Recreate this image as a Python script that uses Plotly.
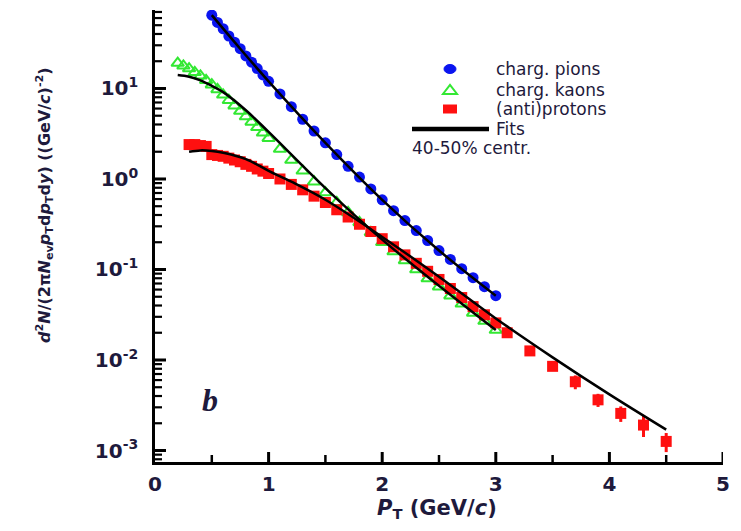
import math
import plotly.graph_objects as go

# ---------------- data ----------------
pion_pt = [0.5, 0.55, 0.6, 0.65, 0.7, 0.75, 0.8, 0.85, 0.9, 0.95, 1.0,
           1.1, 1.2, 1.3, 1.4, 1.5, 1.6, 1.7, 1.8, 1.9, 2.0,
           2.1, 2.2, 2.3, 2.4, 2.5, 2.6, 2.7, 2.8, 2.9, 3.0]
pion_y = [64.6, 53.7, 45.7, 38.0, 32.4, 27.5, 22.9, 19.5, 16.6, 14.1, 12.0,
          8.7, 6.3, 4.57, 3.39, 2.51, 1.86, 1.38, 1.05, 0.776, 0.589,
          0.447, 0.347, 0.269, 0.209, 0.162, 0.129, 0.102, 0.0813, 0.0646, 0.0513]

kaon_pt = [0.2, 0.25, 0.3, 0.35, 0.4, 0.45, 0.5, 0.55, 0.6, 0.65, 0.7, 0.75,
           0.8, 0.85, 0.9, 0.95, 1.0, 1.1, 1.2, 1.3, 1.4, 1.5, 1.6, 1.7, 1.8,
           1.9, 2.0, 2.1, 2.2, 2.3, 2.4, 2.5, 2.6, 2.7, 2.8, 2.9, 3.0]
kaon_y = [19.1, 17.8, 16.6, 15.1, 13.8, 12.3, 11.0, 9.77, 8.51, 7.41, 6.46, 5.62,
          4.90, 4.27, 3.72, 3.24, 2.82, 2.14, 1.62, 1.23, 0.933, 0.708, 0.550, 0.427, 0.331,
          0.257, 0.200, 0.158, 0.126, 0.100, 0.0794, 0.0646, 0.0513, 0.0417, 0.0331, 0.0269, 0.0214]

proton_pt = [0.3, 0.35, 0.4, 0.45, 0.5, 0.55, 0.6, 0.65, 0.7, 0.75, 0.8, 0.85,
             0.9, 0.95, 1.0, 1.1, 1.2, 1.3, 1.4, 1.5, 1.6, 1.7, 1.8, 1.9, 2.0,
             2.1, 2.2, 2.3, 2.4, 2.5, 2.6, 2.7, 2.8, 2.9, 3.0,
             3.1, 3.3, 3.5, 3.7, 3.9, 4.1, 4.3, 4.5]
proton_y = [2.40, 2.40, 2.34, 2.29, 1.86, 1.82, 1.78, 1.70, 1.62, 1.55, 1.45, 1.38,
            1.29, 1.22, 1.15, 1.0, 0.871, 0.759, 0.646, 0.550, 0.457, 0.380, 0.316, 0.263, 0.219,
            0.178, 0.145, 0.117, 0.0955, 0.0776, 0.0617, 0.0490, 0.0389, 0.0316, 0.0257,
            0.0200, 0.0126, 0.00851, 0.00575, 0.00363, 0.00257, 0.00191, 0.00126]
proton_err = [0] * 35 + [0.0012, 0.0009, 0.0008, 0.0010, 0.0006, 0.0005, 0.0005, 0.0003]

pion_fit_pt = [0.5, 0.75, 1.0, 1.5, 2.0, 2.5, 3.0]
pion_fit_y = [64.6, 27.5, 12.0, 2.51, 0.589, 0.162, 0.0513]

kaon_fit_pt = [0.2, 0.3, 0.4, 0.5, 0.6, 0.8, 1.0, 1.5, 2.0, 2.5, 3.0]
kaon_fit_y = [14.1, 13.5, 12.3, 10.7, 9.12, 5.75, 3.31, 0.794, 0.214, 0.0661, 0.0214]

proton_fit_pt = [0.3, 0.4, 0.5, 0.6, 0.8, 1.0, 1.2, 1.5, 2.0, 2.5, 3.0, 3.5, 4.0, 4.5]
proton_fit_y = [2.0, 2.07, 2.04, 1.95, 1.66, 1.23, 0.933, 0.589, 0.229, 0.0832, 0.0288,
                0.0107, 0.00417, 0.0017]

y_tickvals = [1e-3, 1e-2, 1e-1, 1e0, 1e1]
y_ticktext = ["10<sup>-3</sup>", "10<sup>-2</sup>", "10<sup>-1</sup>", "10<sup>0</sup>", "10<sup>1</sup>"]
y_minor = [m * 10.0 ** e for e in range(-4, 2) for m in range(2, 10)]
x_tickvals = [0, 1, 2, 3, 4, 5]
x_minor = [0.5, 1.5, 2.5, 3.5, 4.5]

legend_names = ["charg. pions", "charg. kaons", "(anti)protons", "Fits", "40-50% centr."]

# ---------------- styling ----------------
BLUE = "#0a14f0"
GREEN = "#33e833"
RED = "#ff1010"
TXT = "#1e1a3c"
XR = [0, 5]
YR = [-3.127, 1.867]

# the page body adds an 8px offset, so the figure is sized to fit inside it
OFF = 8
W, H = 741 - OFF, 531 - OFF
L, R, T, B = 147, 18, 2, 69
pw, ph = W - L - R, H - T - B


def px(X):
    return (X - OFF - L) / pw


def py(Y):
    return (H + OFF - B - Y) / ph


def ylog_paper(v):
    return (math.log10(v) - YR[0]) / (YR[1] - YR[0])


fig = go.Figure()

fig.add_trace(go.Scatter(x=pion_pt, y=pion_y, mode="markers",
                         marker=dict(symbol="circle", size=11, color=BLUE)))
fig.add_trace(go.Scatter(x=kaon_pt, y=kaon_y, mode="markers",
                         marker=dict(symbol="triangle-up-open", size=11, color=GREEN,
                                     line=dict(width=2, color=GREEN))))
fig.add_trace(go.Scatter(x=proton_pt, y=proton_y, mode="markers",
                         marker=dict(symbol="square", size=11, color=RED),
                         error_y=dict(type="data", array=proton_err, color=RED,
                                      thickness=3, width=0)))

for xs, ys in [(pion_fit_pt, pion_fit_y), (kaon_fit_pt, kaon_fit_y), (proton_fit_pt, proton_fit_y)]:
    fig.add_trace(go.Scatter(x=xs, y=ys, mode="lines",
                             line=dict(color="black", width=2.5, shape="spline", smoothing=1.0)))

shapes = []
# axis tick marks (pointing inward)
for v in y_tickvals:
    shapes.append(dict(type="line", xref="paper", yref="paper", x0=0, x1=11 / pw,
                       y0=ylog_paper(v), y1=ylog_paper(v), line=dict(color="black", width=3)))
for v in y_minor:
    yp = ylog_paper(v)
    if 0 <= yp <= 1:
        shapes.append(dict(type="line", xref="paper", yref="paper", x0=0, x1=7 / pw,
                           y0=yp, y1=yp, line=dict(color="black", width=2.2)))
for v in x_tickvals[1:]:
    shapes.append(dict(type="line", xref="x", yref="paper", x0=v, x1=v,
                       y0=0, y1=10 / ph, line=dict(color="black", width=3)))
for v in x_minor:
    shapes.append(dict(type="line", xref="x", yref="paper", x0=v, x1=v,
                       y0=0, y1=7 / ph, line=dict(color="black", width=2.5)))

# legend symbols
cx = px(450)
shapes.append(dict(type="circle", xref="paper", yref="paper",
                   x0=cx - 6 / pw, x1=cx + 6 / pw, y0=py(69) - 4.5 / ph, y1=py(69) + 4.5 / ph,
                   fillcolor=BLUE, line=dict(color=BLUE, width=1)))
ty = py(90)
shapes.append(dict(type="path", xref="paper", yref="paper",
                   path=f"M {cx - 7 / pw} {ty - 4 / ph} L {cx + 7 / pw} {ty - 4 / ph} L {cx} {ty + 5 / ph} Z",
                   line=dict(color=GREEN, width=2)))
shapes.append(dict(type="rect", xref="paper", yref="paper",
                   x0=cx - 7 / pw, x1=cx + 7 / pw, y0=py(109) - 4.5 / ph, y1=py(109) + 4.5 / ph,
                   fillcolor=RED, line=dict(color=RED, width=0)))
shapes.append(dict(type="line", xref="paper", yref="paper",
                   x0=px(412), x1=px(489), y0=py(129), y1=py(129),
                   line=dict(color="black", width=4.5)))
fig.update_layout(shapes=shapes)

ann_font = dict(family="DejaVu Sans, Arial", size=17, color=TXT)
annotations = []
for name, yy in zip(legend_names[:4], [69, 90, 109, 129]):
    annotations.append(dict(xref="paper", yref="paper", x=px(494), y=py(yy), text=name,
                            showarrow=False, xanchor="left", yanchor="middle", font=ann_font))
annotations.append(dict(xref="paper", yref="paper", x=px(410), y=py(148), text=legend_names[4],
                        showarrow=False, xanchor="left", yanchor="middle", font=ann_font))
annotations.append(dict(xref="paper", yref="paper", x=px(210), y=py(400), text="<b><i>b</i></b>",
                        showarrow=False, xanchor="center", yanchor="middle",
                        font=dict(family="Liberation Serif, Times New Roman", size=32, color=TXT)))
annotations.append(dict(xref="paper", yref="paper", x=px(45), y=py(205), textangle=-90,
                        text="<b><i>d</i><sup>2</sup><i>N</i>/(2π<i>N</i><sub>ev</sub><i>p</i><sub>T</sub>d<i>p</i><sub>T</sub>d<i>y</i>) ((GeV/<i>c</i>)<sup>-2</sup>)</b>",
                        showarrow=False, xanchor="center", yanchor="middle",
                        font=dict(family="DejaVu Sans, Arial", size=16, color=TXT)))
annotations.append(dict(xref="paper", yref="paper", x=px(437), y=py(509),
                        text="<b><i>P</i><sub>T</sub> (GeV/<i>c</i>)</b>",
                        showarrow=False, xanchor="center", yanchor="middle",
                        font=dict(family="DejaVu Sans, Arial", size=21, color=TXT)))
fig.update_layout(annotations=annotations)

fig.update_layout(
    width=W, height=H, margin=dict(l=L, r=R, t=T, b=B),
    paper_bgcolor="white", plot_bgcolor="white", showlegend=False,
    xaxis=dict(range=XR, showline=True, linecolor="black", linewidth=2.5,
               ticks="", tickvals=x_tickvals, showgrid=False, zeroline=False,
               ticklabelstandoff=2,
               tickfont=dict(family="DejaVu Sans, Arial", size=20, color=TXT, weight="bold")),
    yaxis=dict(type="log", range=YR, showline=True, linecolor="black", linewidth=2.5,
               ticks="", tickvals=y_tickvals, ticktext=y_ticktext, showgrid=False, zeroline=False,
               ticklabelstandoff=10,
               tickfont=dict(family="DejaVu Sans, Arial", size=20, color=TXT, weight="bold")),
)

fig.write_html("out.html")
